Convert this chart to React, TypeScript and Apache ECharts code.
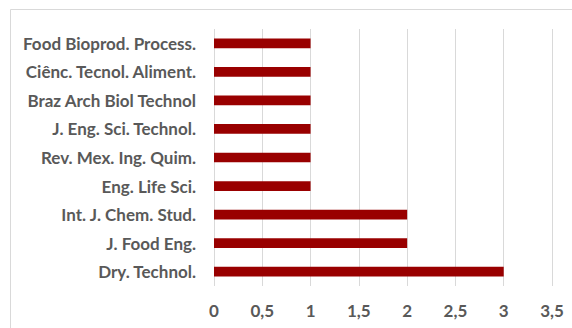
import React, { useEffect, useRef } from "react";
import * as echarts from "echarts";

const categories = [
  "Dry. Technol.",
  "J. Food Eng.",
  "Int. J. Chem. Stud.",
  "Eng. Life Sci.",
  "Rev. Mex. Ing. Quim.",
  "J. Eng. Sci. Technol.",
  "Braz Arch Biol Technol",
  "Ciênc. Tecnol. Aliment.",
  "Food Bioprod. Process.",
];
const values = [3, 2, 2, 1, 1, 1, 1, 1, 1];

export default function App() {
  const ref = useRef<HTMLDivElement>(null);
  useEffect(() => {
    document.body.style.margin = "0";
    const chart = echarts.init(ref.current!, null, { renderer: "svg" });
    const font = { color: "#595959", fontFamily: "Lato", fontWeight: "bold" as const, fontSize: 17 };
    chart.setOption({
      animation: false,
      backgroundColor: "#ffffff",
      graphic: [
        {
          type: "rect",
          shape: { x: 10.5, y: 9.5, width: 700, height: 500 },
          style: { fill: "none", stroke: "#d9d9d9", lineWidth: 1 },
          silent: true,
        },
      ],
      grid: { left: 214, right: 20, top: 29, bottom: 42 },
      xAxis: {
        type: "value",
        min: 0,
        max: 3.5,
        interval: 0.5,
        axisLine: { show: false },
        axisTick: { show: false },
        splitLine: { show: true, lineStyle: { color: "#d9d9d9", width: 1 } },
        axisLabel: {
          ...font,
          margin: 16,
          formatter: (v: number) => String(v).replace(".", ","),
        },
      },
      yAxis: {
        type: "category",
        data: categories,
        axisLine: { show: false },
        axisTick: { show: false },
        axisLabel: { ...font, margin: 18 },
      },
      series: [
        {
          type: "bar",
          data: values,
          barCategoryGap: "66%",
          itemStyle: { color: "#990000" },
        },
      ],
    });
    return () => chart.dispose();
  }, []);
  return <div ref={ref} style={{ width: 572, height: 328 }} />;
}
